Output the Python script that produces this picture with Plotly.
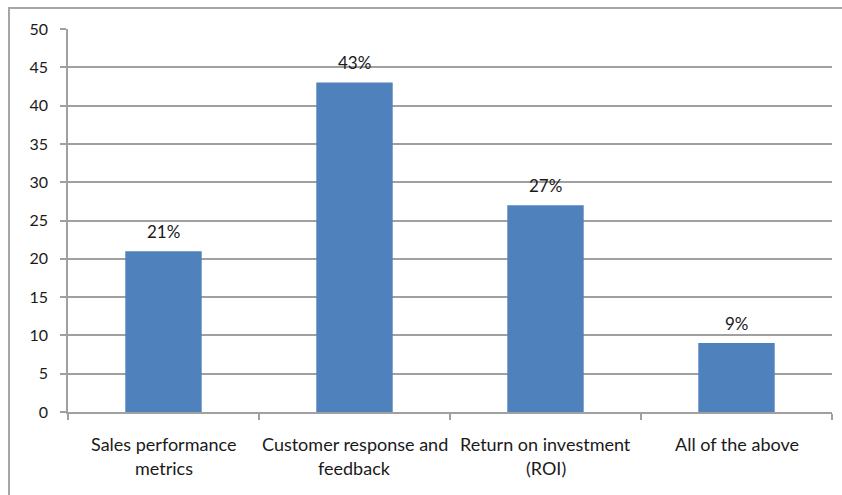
import plotly.graph_objects as go

categories = ["Sales performance<br>metrics", "Customer response and<br>feedback",
              "Return on investment<br>(ROI)", "All of the above"]
values = [21, 43, 27, 9]
y_ticks = [0, 5, 10, 15, 20, 25, 30, 35, 40, 45, 50]

BAR = "#4F81BD"
GRID = "#A0A0A0"
FONT = "Lato"
TXT = "#1a1a1a"

fig = go.Figure(go.Bar(
    x=categories, y=values, marker=dict(color=BAR, line=dict(width=0)),
    width=0.4, showlegend=False, hoverinfo="skip",
))

# value labels above each bar
for c, v in zip(categories, values):
    fig.add_annotation(x=c, y=v, text=f"{v}%", showarrow=False,
                       yanchor="middle", yshift=20,
                       font=dict(family=FONT, size=17, color=TXT))

# category labels, one annotation per line for wider line spacing
for c in categories:
    for i, line in enumerate(c.split("<br>")):
        fig.add_annotation(x=c, xref="x", y=0, yref="paper", text=line, showarrow=False,
                           yanchor="middle", yshift=-(32 + 24 * i),
                           font=dict(family=FONT, size=18, color=TXT))

# outer chart frame
W, H = 842, 495
L, R, T, B = 68, 10, 29, 83
pw, ph = W - L - R, H - T - B
fig.add_shape(type="rect", xref="paper", yref="paper",
              x0=(9 - L) / pw, x1=(W + 20 - L) / pw,
              y0=-(B + 20) / ph, y1=1 + (T - 8) / ph,
              line=dict(color="#A6A6A6", width=2), fillcolor="rgba(0,0,0,0)", layer="below")

fig.update_layout(
    width=W, height=H, margin=dict(l=L, r=R, t=T, b=B),
    paper_bgcolor="white", plot_bgcolor="white",
    font=dict(family=FONT, size=16, color=TXT),
    bargap=0.6,
)
fig.update_xaxes(showline=True, linecolor=GRID, linewidth=1.5, ticks="outside",
                 tickson="boundaries", ticklen=6, tickcolor=GRID, tickwidth=1.5,
                 showgrid=False, showticklabels=False)
fig.update_yaxes(range=[0, 50], tickvals=y_ticks, showline=True, linecolor=GRID, linewidth=1.5,
                 ticks="outside", ticklen=6, tickcolor=GRID, tickwidth=1.5,
                 showgrid=True, gridcolor=GRID, gridwidth=1.5, zeroline=False,
                 tickfont=dict(family=FONT, size=16, color=TXT), ticklabelstandoff=9)

fig.write_html("out.html")
